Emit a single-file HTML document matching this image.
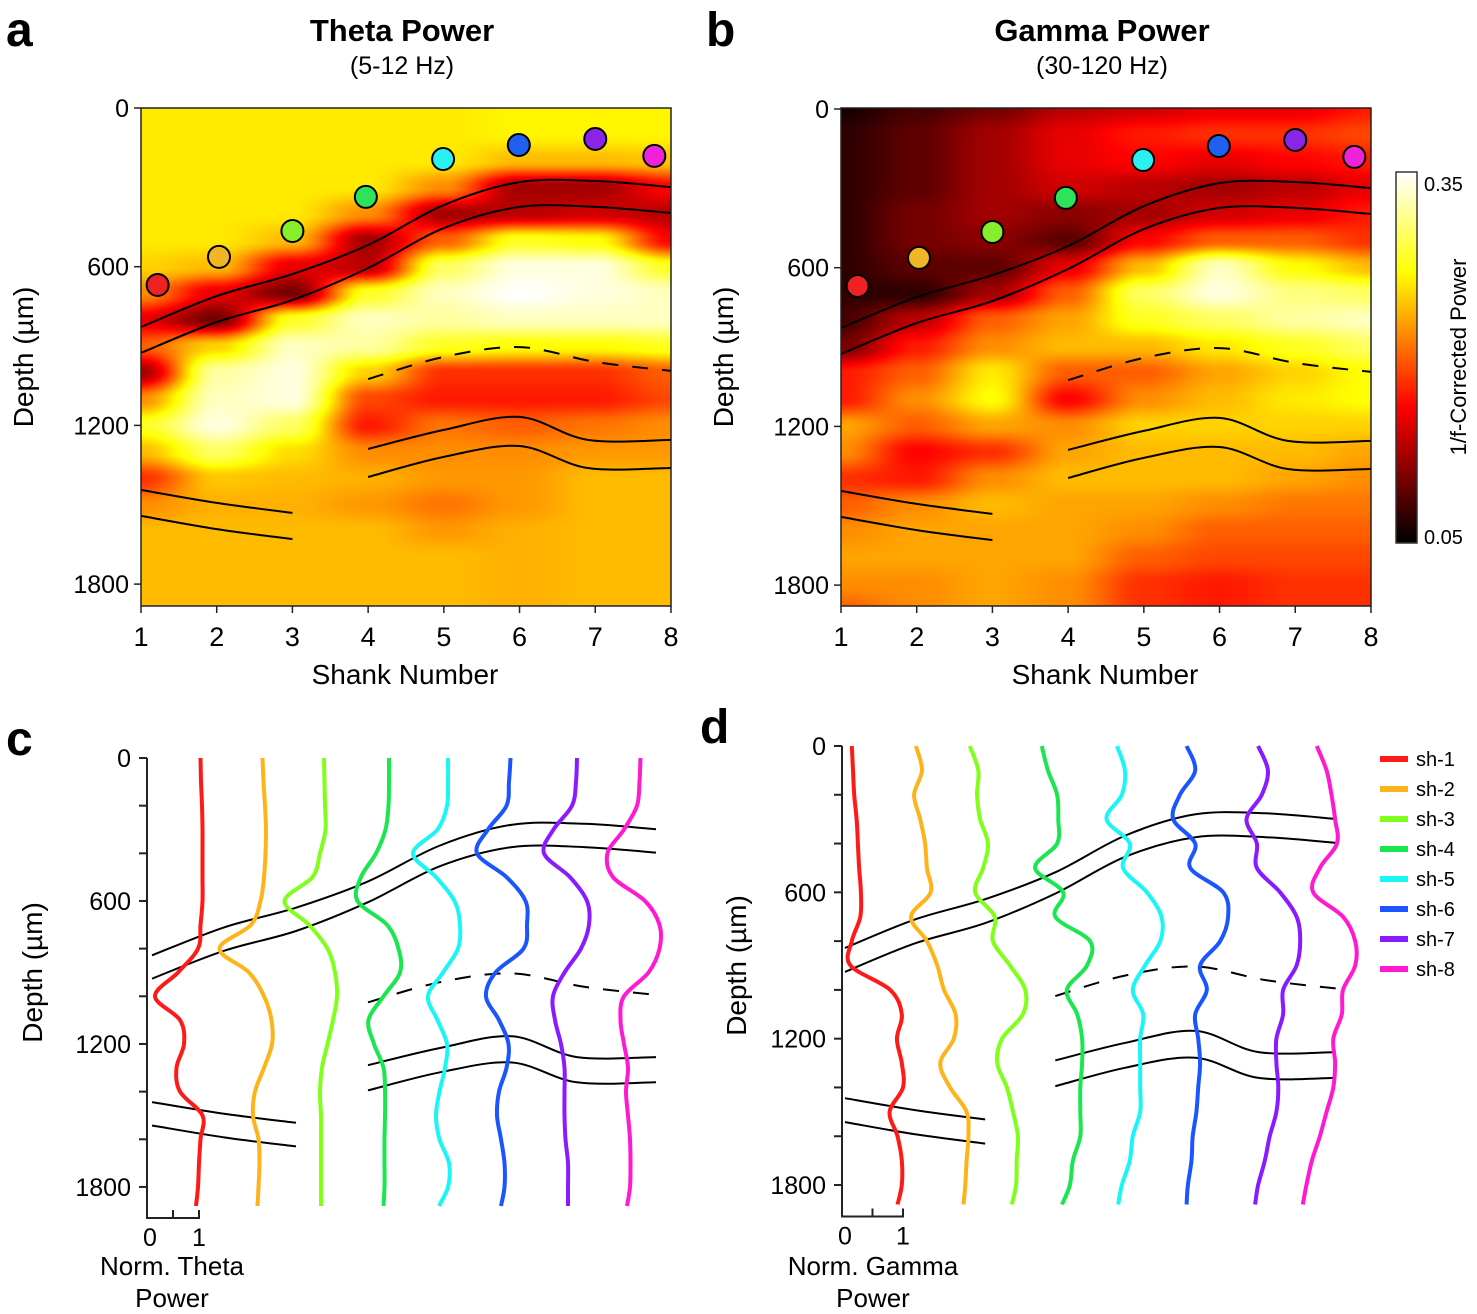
<!DOCTYPE html>
<html><head><meta charset="utf-8">
<style>
html,body{margin:0;padding:0;background:#fff;}
#wrap{position:relative;width:1477px;height:1314px;overflow:hidden;background:#fff;font-family:"Liberation Sans",Arial,sans-serif;}
canvas{position:absolute;}
svg{position:absolute;left:0;top:0;}
</style></head>
<body>
<div id="wrap">
<canvas id="hmA" width="530" height="498" style="left:141px;top:108px"></canvas>
<canvas id="hmB" width="530" height="498" style="left:841px;top:108px"></canvas>
<canvas id="cbar" width="21" height="371" style="left:1396px;top:172px"></canvas>
<svg id="fig" width="1477" height="1314" xmlns="http://www.w3.org/2000/svg"></svg>
</div>
<script>
// ---------- data ----------
const shanks = [1,2,3,4,5,6,7,8];
const mapDepths = [0,100,200,300,400,500,600,700,800,900,1000,1100,1200,1300,1400,1500,1600,1700,1800,1900];
const theta1 = [0.26,0.26,0.26,0.26,0.26,0.26,0.25,0.22,0.15,0.2,0.12,0.22,0.28,0.24,0.18,0.22,0.24,0.24,0.24,0.24];
const theta2 = [0.26,0.26,0.26,0.26,0.26,0.26,0.24,0.15,0.1,0.25,0.32,0.33,0.34,0.3,0.245,0.235,0.24,0.24,0.24,0.24];
const theta3 = [0.26,0.26,0.26,0.26,0.26,0.24,0.15,0.1,0.28,0.33,0.34,0.34,0.3,0.255,0.24,0.235,0.24,0.24,0.24,0.24];
const theta4 = [0.26,0.26,0.26,0.26,0.22,0.12,0.13,0.28,0.33,0.32,0.25,0.19,0.17,0.22,0.235,0.225,0.24,0.24,0.24,0.24];
const theta5 = [0.26,0.26,0.26,0.22,0.12,0.2,0.3,0.33,0.32,0.28,0.18,0.17,0.21,0.22,0.225,0.21,0.225,0.24,0.24,0.24];
const theta6 = [0.265,0.265,0.24,0.12,0.13,0.28,0.34,0.35,0.33,0.27,0.18,0.17,0.2,0.22,0.225,0.225,0.235,0.235,0.235,0.235];
const theta7 = [0.265,0.265,0.24,0.12,0.14,0.27,0.34,0.34,0.33,0.27,0.18,0.17,0.21,0.225,0.24,0.24,0.24,0.24,0.24,0.24];
const theta8 = [0.265,0.265,0.245,0.16,0.13,0.16,0.28,0.33,0.33,0.28,0.2,0.19,0.22,0.225,0.24,0.24,0.24,0.24,0.24,0.24];
const gamma1 = [0.06,0.07,0.07,0.07,0.07,0.07,0.07,0.07,0.08,0.1,0.17,0.17,0.23,0.22,0.18,0.2,0.22,0.23,0.22,0.2];
const gamma2 = [0.08,0.09,0.09,0.09,0.1,0.1,0.09,0.07,0.13,0.17,0.2,0.22,0.2,0.16,0.17,0.22,0.23,0.23,0.22,0.22];
const gamma3 = [0.1,0.12,0.12,0.12,0.12,0.11,0.09,0.12,0.2,0.22,0.26,0.27,0.23,0.18,0.22,0.24,0.23,0.23,0.23,0.23];
const gamma4 = [0.13,0.15,0.15,0.14,0.11,0.09,0.15,0.2,0.23,0.24,0.2,0.16,0.22,0.23,0.24,0.23,0.23,0.23,0.22,0.22];
const gamma5 = [0.14,0.17,0.16,0.13,0.12,0.16,0.24,0.3,0.28,0.24,0.2,0.22,0.25,0.24,0.24,0.23,0.22,0.2,0.18,0.18];
const gamma6 = [0.15,0.18,0.15,0.12,0.14,0.2,0.33,0.34,0.3,0.26,0.23,0.24,0.25,0.24,0.24,0.22,0.2,0.19,0.17,0.17];
const gamma7 = [0.15,0.18,0.16,0.13,0.15,0.2,0.27,0.31,0.32,0.28,0.25,0.26,0.25,0.24,0.23,0.21,0.2,0.19,0.18,0.18];
const gamma8 = [0.17,0.19,0.17,0.15,0.17,0.18,0.24,0.3,0.33,0.3,0.27,0.27,0.25,0.23,0.22,0.21,0.2,0.19,0.18,0.18];
const colorMin = 0.05, colorMax = 0.35;

const siteShank = [1.22,2.03,3.0,3.97,4.99,5.99,7.0,7.78];
const siteDepth = [669,563,465,336,193,140,117,181];
const shankColors = ['#ff1a1a','#ffb31a','#80ff1a','#1ae650','#1af5f5','#1a55ff','#8a1aff','#ff1ad2'];
const siteColors = ['#ee2222','#f2b525','#86ee2a','#2ee35a','#2af0f0','#1f60f0','#8a25e8','#ee22d8'];

const upperTopShank = [1,2,3,4,5,6,7,8];
const upperTopDepth = [828,711,628,518,367,280,276,299];
const upperBotDepth = [926,809,726,605,454,374,374,397];
const dashShank = [4,5,6,7,8];
const dashDepth = [1025,941,904,960,994];
const lowRShank = [4,5,6,6.9,8];
const lowRTopDepth = [1289,1217,1168,1255,1255];
const lowRBotDepth = [1395,1319,1278,1361,1361];
const lowLShank = [1,2,3];
const lowLTopDepth = [1444,1493,1531];
const lowLBotDepth = [1542,1592,1630];

const traceDepths = [0,100,200,300,400,500,600,700,800,900,1000,1100,1200,1300,1400,1500,1600,1700,1800,1880];
const thetaTrace1 = [1.01,1.02,1.04,1.05,1.05,1.05,1.05,1.01,0.96,0.56,0.1,0.6,0.68,0.53,0.6,1.05,1.01,0.98,0.96,0.92];
const thetaTrace2 = [1.02,1.04,1.07,1.09,1.08,1.05,0.98,0.79,0.16,0.75,1.05,1.2,1.21,1.05,0.87,0.83,0.94,0.96,0.94,0.92];
const thetaTrace3 = [1.02,1.03,1.04,1.05,0.94,0.79,0.23,0.72,1.09,1.24,1.28,1.2,1.09,0.98,0.94,0.96,0.96,0.96,0.96,0.96];
const thetaTrace4 = [1.09,1.09,1.08,1.02,0.83,0.53,0.46,1.05,1.28,1.31,0.98,0.68,0.79,0.98,1.01,1.01,1.0,1.0,1.0,0.98];
const thetaTrace5 = [1.04,1.04,1.02,0.83,0.34,0.8,1.17,1.28,1.24,0.94,0.64,0.83,1.02,0.98,0.87,0.8,0.87,1.06,1.04,0.86];
const thetaTrace6 = [1.06,1.03,0.98,0.61,0.39,0.98,1.36,1.39,1.32,0.76,0.57,0.83,1.02,0.98,0.83,0.79,0.87,0.94,0.94,0.87];
const thetaTrace7 = [1.16,1.14,1.06,0.69,0.5,1.02,1.36,1.4,1.24,0.91,0.68,0.72,0.84,0.91,0.91,0.91,0.93,0.98,0.98,0.98];
const thetaTrace8 = [1.2,1.18,1.13,0.87,0.54,0.65,1.29,1.58,1.58,1.36,0.87,0.8,0.87,0.95,0.91,0.95,0.99,1.0,0.99,0.93];
const gammaTrace1 = [0.16,0.18,0.2,0.24,0.26,0.28,0.31,0.3,0.16,0.14,0.79,0.98,0.9,0.98,1.0,0.78,0.91,0.98,0.98,0.91];
const gammaTrace2 = [0.13,0.23,0.1,0.2,0.28,0.31,0.37,0.05,0.31,0.48,0.59,0.78,0.75,0.53,0.69,0.96,0.99,0.96,0.94,0.91];
const gammaTrace3 = [-0.07,0.07,0.05,0.1,0.23,0.15,0.02,0.34,0.31,0.59,0.84,0.8,0.46,0.38,0.54,0.64,0.72,0.7,0.69,0.62];
const gammaTrace4 = [0.03,0.13,0.28,0.3,0.28,-0.08,0.38,0.25,0.82,0.77,0.44,0.61,0.69,0.69,0.66,0.66,0.66,0.54,0.49,0.36];
const gammaTrace5 = [0.18,0.31,0.26,0.01,0.39,0.28,0.67,0.91,0.89,0.64,0.44,0.61,0.56,0.56,0.56,0.56,0.44,0.39,0.26,0.2];
const gammaTrace6 = [0.24,0.38,0.13,0.02,0.38,0.3,0.84,0.92,0.79,0.46,0.57,0.38,0.43,0.46,0.43,0.4,0.34,0.32,0.26,0.24];
const gammaTrace7 = [0.33,0.49,0.39,0.14,0.31,0.31,0.69,0.96,1.02,0.96,0.74,0.74,0.63,0.63,0.66,0.63,0.52,0.44,0.33,0.28];
const gammaTrace8 = [0.21,0.37,0.45,0.51,0.54,0.26,0.15,0.64,0.84,0.84,0.64,0.62,0.48,0.51,0.48,0.37,0.26,0.13,0.04,-0.02];
const depthTicks = [0,600,1200,1800];
const minorDepthTicks = [0,200,400,600,800,1000,1200,1400,1600,1800];
const legendLabels = ['sh-1','sh-2','sh-3','sh-4','sh-5','sh-6','sh-7','sh-8'];

const thetaMap = [theta1,theta2,theta3,theta4,theta5,theta6,theta7,theta8];
const gammaMap = [gamma1,gamma2,gamma3,gamma4,gamma5,gamma6,gamma7,gamma8];
const thetaTraces = [thetaTrace1,thetaTrace2,thetaTrace3,thetaTrace4,thetaTrace5,thetaTrace6,thetaTrace7,thetaTrace8];
const gammaTraces = [gammaTrace1,gammaTrace2,gammaTrace3,gammaTrace4,gammaTrace5,gammaTrace6,gammaTrace7,gammaTrace8];

// ---------- axes ----------
const xA = s => 141 + (s-1)*75.71, yA = d => 108 + d*0.2645;
const xB = s => 841 + (s-1)*75.71, yB = d => 109 + d*0.2645;
const xC = s => 152 + (s-1)*72.0,  yC = d => 758 + d*0.2383;
const xD = s => 845 + (s-1)*70.1,  yD = d => 746 + d*0.2439;
const traceXC = (i,v) => 150 + i*61.5 + v*50;
const traceXD = (i,v) => 842 + i*66 + v*61;

function hot(v){
  let t=(v-colorMin)/(colorMax-colorMin); t=Math.max(0,Math.min(1,t));
  const c=x=>Math.round(255*Math.max(0,Math.min(1,x)));
  return [c(t/0.365), c((t-0.365)/0.365), c((t-0.73)/0.27)];
}
function sstep(f){return f*f*(3-2*f);}
function drawMap(id, grid){
  const cv=document.getElementById(id), ctx=cv.getContext('2d');
  const W=cv.width,H=cv.height, img=ctx.createImageData(W,H);
  for(let j=0;j<H;j++){
    const d=(j+0.5)/0.2645;
    let r=d/100; r=Math.max(0,Math.min(mapDepths.length-1.001,r));
    const r0=Math.floor(r), fr=sstep(r-r0);
    for(let i=0;i<W;i++){
      let c=(i+0.5)/75.71; c=Math.max(0,Math.min(shanks.length-1.001,c));
      const c0=Math.floor(c), fc=sstep(c-c0);
      const v00=grid[c0][r0],v01=grid[c0][r0+1],v10=grid[c0+1][r0],v11=grid[c0+1][r0+1];
      const v=(v00*(1-fr)+v01*fr)*(1-fc)+(v10*(1-fr)+v11*fr)*fc;
      const col=hot(v), k=(j*W+i)*4;
      img.data[k]=col[0];img.data[k+1]=col[1];img.data[k+2]=col[2];img.data[k+3]=255;
    }
  }
  ctx.putImageData(img,0,0);
}
drawMap('hmA',thetaMap);
drawMap('hmB',gammaMap);
(function(){
  const cv=document.getElementById('cbar'),ctx=cv.getContext('2d');
  for(let j=0;j<cv.height;j++){
    const v=colorMax-(j/(cv.height-1))*(colorMax-colorMin);
    const c=hot(v); ctx.fillStyle=`rgb(${c[0]},${c[1]},${c[2]})`; ctx.fillRect(0,j,cv.width,1);
  }
})();

// ---------- svg ----------
const NS='http://www.w3.org/2000/svg', svg=document.getElementById('fig');
function el(tag,attrs,parent){const e=document.createElementNS(NS,tag);for(const k in attrs)e.setAttribute(k,attrs[k]);(parent||svg).appendChild(e);return e;}
function txt(str,attrs,parent){const e=el('text',attrs,parent);e.textContent=str;return e;}
function smooth(pts){
  let d=`M${pts[0][0].toFixed(1)},${pts[0][1].toFixed(1)}`;
  for(let i=0;i<pts.length-1;i++){
    const p0=pts[Math.max(0,i-1)],p1=pts[i],p2=pts[i+1],p3=pts[Math.min(pts.length-1,i+2)];
    const c1=[p1[0]+(p2[0]-p0[0])/6,p1[1]+(p2[1]-p0[1])/6],c2=[p2[0]-(p3[0]-p1[0])/6,p2[1]-(p3[1]-p1[1])/6];
    d+=` C${c1[0].toFixed(1)},${c1[1].toFixed(1)} ${c2[0].toFixed(1)},${c2[1].toFixed(1)} ${p2[0].toFixed(1)},${p2[1].toFixed(1)}`;
  }
  return d;
}
const F='"Liberation Sans", Arial, sans-serif';

function boundaryLines(g, xs, ys, prefix){
  const sets=[[upperTopShank,upperTopDepth,'pyramidal-top'],[upperTopShank,upperBotDepth,'pyramidal-bottom'],
              [lowRShank,lowRTopDepth,'granule-top-right'],[lowRShank,lowRBotDepth,'granule-bottom-right'],
              [lowLShank,lowLTopDepth,'granule-top-left'],[lowLShank,lowLBotDepth,'granule-bottom-left']];
  sets.forEach(s=>{
    const p=el('path',{d:smooth(s[0].map((v,i)=>[xs(v),ys(s[1][i])])),fill:'none',stroke:'#000','stroke-width':2},g);
    
    
  });
  const dp=el('path',{d:smooth(dashShank.map((v,i)=>[xs(v),ys(dashDepth[i])])),fill:'none',stroke:'#000','stroke-width':2,'stroke-dasharray':'16,14'},g);
  
  
}

function heatPanel(letter,title,sub,xs,ys,px,prefix){
  const g=el('g',{});
  
  
  const lt=txt(letter,{x:px-135,y:46,'font-family':F,'font-weight':'bold','font-size':48},g);
  
  
  const t=txt(title,{x:px+261,y:41,'text-anchor':'middle','font-family':F,'font-weight':'bold','font-size':31},g);
  
  
  const st=txt(sub,{x:px+261,y:74,'text-anchor':'middle','font-family':F,'font-size':25},g);
  
  
  boundaryLines(g,xs,ys,prefix);
  siteShank.forEach((s,i)=>{
    const c=el('circle',{cx:xs(s),cy:ys(siteDepth[i]),r:11,fill:siteColors[i],stroke:'#000','stroke-width':2},g);
    
    
  });
  const fr=el('rect',{x:xs(1),y:108,width:530,height:498,fill:'none',stroke:'#222','stroke-width':1.5},g);
  
  
  depthTicks.forEach(d=>{
    const tk=el('line',{x1:xs(1)-7,x2:xs(1),y1:ys(d),y2:ys(d),stroke:'#222','stroke-width':1.5},g);
    
    
    const tl=txt(String(d),{x:xs(1)-12,y:ys(d)+9,'text-anchor':'end','font-family':F,'font-size':25},g);
    
    
  });
  shanks.forEach(s=>{
    const tk=el('line',{x1:xs(s),x2:xs(s),y1:606,y2:613,stroke:'#222','stroke-width':1.5},g);
    
    
    const tl=txt(String(s),{x:xs(s),y:646,'text-anchor':'middle','font-family':F,'font-size':27},g);
    
    
  });
  const xt=txt('Shank Number',{x:px+264,y:684,'text-anchor':'middle','font-family':F,'font-size':28},g);
  
  
  const yt=txt('Depth (µm)',{x:0,y:0,'text-anchor':'middle','font-family':F,'font-size':28,transform:`translate(${px-108},357) rotate(-90)`},g);
  
  
}
heatPanel('a','Theta Power','(5-12 Hz)',xA,yA,141,'theta-map');
heatPanel('b','Gamma Power','(30-120 Hz)',xB,yB,841,'gamma-map');

// colorbar
const cbf=el('rect',{x:1396,y:172,width:21,height:371,fill:'none',stroke:'#333','stroke-width':1.5});


const cbt=txt(String(colorMax),{x:1424,y:191,'font-family':F,'font-size':20});


const cbb=txt(String(colorMin),{x:1424,y:544,'font-family':F,'font-size':20});


const cbtt=txt('1/f-Corrected Power',{x:0,y:0,'text-anchor':'middle','font-family':F,'font-size':22,transform:'translate(1466,357) rotate(-90)'});



function tracePanel(letter,traces,xs,ys,tx,axisX,axis0,barUnit,titleTop,prefix,labelX,titleX){
  const g=el('g',{});
  
  
  const lt=txt(letter,{x:letter==='c'?6:700,y:ys(0)-3,'font-family':F,'font-weight':'bold','font-size':48},g);
  
  
  boundaryLines(g,xs,ys,prefix);
  traces.forEach((vals,i)=>{
    const p=el('path',{d:smooth(vals.map((v,k)=>[tx(i,v),ys(traceDepths[k])])),fill:'none',stroke:shankColors[i],'stroke-width':4,'stroke-linejoin':'round'},g);
    
    
  });
  const bottom=ys(1880)+12;
  const ax=el('path',{d:`M${axisX},${ys(0)} L${axisX},${bottom} L${axisX+barUnit},${bottom} L${axisX+barUnit},${bottom-8} M${axisX+barUnit/2},${bottom} L${axisX+barUnit/2},${bottom-8}`,fill:'none',stroke:'#222','stroke-width':2},g);
  
  
  minorDepthTicks.forEach(d=>{
    const tk=el('line',{x1:axisX-8,x2:axisX,y1:ys(d),y2:ys(d),stroke:'#222','stroke-width':2},g);
    
    
  });
  depthTicks.forEach(d=>{
    const tl=txt(String(d),{x:axisX-16,y:ys(d)+9,'text-anchor':'end','font-family':F,'font-size':25},g);
    
    
  });
  const l0=txt('0',{x:axisX+3,y:bottom+28,'text-anchor':'middle','font-family':F,'font-size':25},g);
  
  
  const l1=txt('1',{x:axisX+barUnit,y:bottom+28,'text-anchor':'middle','font-family':F,'font-size':25},g);
  
  
  const s1=txt(titleTop,{x:titleX,y:1275,'text-anchor':'middle','font-family':F,'font-size':26},g);
  
  
  const s2=txt('Power',{x:titleX,y:1307,'text-anchor':'middle','font-family':F,'font-size':26},g);
  
  
  const yt=txt('Depth (µm)',{x:0,y:0,'text-anchor':'middle','font-family':F,'font-size':28,transform:`translate(${labelX},${ys(900)}) rotate(-90)`},g);
  
  
}
tracePanel('c',thetaTraces,xC,yC,traceXC,147,758,52,'Norm. Theta','theta-profile',42,172);
tracePanel('d',gammaTraces,xD,yD,traceXD,842,746,61,'Norm. Gamma','gamma-profile',746,873);

// legend
legendLabels.forEach((lab,i)=>{
  const y=759+i*30;
  const ln=el('line',{x1:1380,x2:1408,y1:y,y2:y,stroke:shankColors[i],'stroke-width':6});
  
  
  const t=txt(lab,{x:1416,y:y+7,'font-family':F,'font-size':20});
  
  
});
</script>
</body></html>
